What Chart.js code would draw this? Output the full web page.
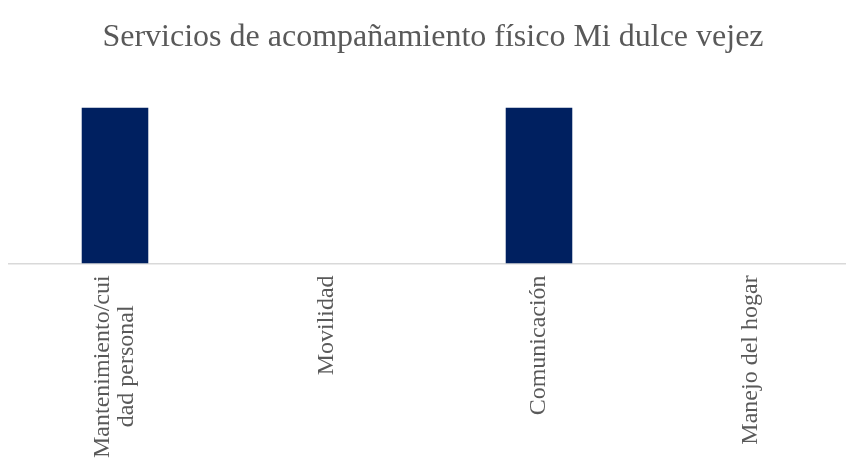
<!DOCTYPE html>
<html>
<head>
<meta charset="utf-8">
<script src="https://cdn.jsdelivr.net/npm/chart.js@4.4.0/dist/chart.umd.min.js"></script>
<style>
  html, body { margin: 0; padding: 0; background: #fff; overflow: hidden; }
  #wrap { width: 879px; height: 459px; }
</style>
</head>
<body>
<div id="wrap"><canvas id="myChart" width="879" height="459"></canvas></div>
<script>
// data
const titulo = 'Servicios de acompañamiento físico Mi dulce vejez';
const categorias = [
    ['Mantenimiento/cui', 'dad personal\u00a0\u00a0\u00a0\u00a0\u00a0'],
    'Movilidad',
    'Comunicación',
    'Manejo del hogar'
];
const valores = [1, 0, 1, 0];

const fuente = "'Liberation Serif', 'Times New Roman', serif";

// labels of two lines get centred on their tick, single lines keep their place
const esMultilinea = (c) => Array.isArray(categorias[c.index]);

const data = {
    labels: categorias,
    datasets: [
        {
            label: 'Servicios',
            data: valores,
            backgroundColor: '#002060',
            barPercentage: 0.314,
            categoryPercentage: 1
        }
    ]
};

const config = {
    type: 'bar',
    data: data,
    options: {
        responsive: false,
        animation: false,
        layout: {
            padding: { left: 9, right: 22, top: 0, bottom: -11 }
        },
        plugins: {
            legend: { display: false },
            tooltip: { enabled: false },
            title: {
                display: true,
                text: titulo,
                color: '#595959',
                font: { family: fuente, size: 32, weight: 'normal' },
                padding: { top: 18, bottom: 51 }
            }
        },
        scales: {
            x: {
                grid: { display: false, drawTicks: false },
                border: { display: true, color: '#d9d9d9', width: 1.5 },
                ticks: {
                    color: '#595959',
                    font: { family: fuente, size: 24, lineHeight: 1.0 },
                    maxRotation: 90,
                    minRotation: 90,
                    padding: 12,
                    labelOffset: -12,
                    showLabelBackdrop: (c) => !esMultilinea(c),
                    backdropColor: 'rgba(0,0,0,0)',
                    autoSkip: false
                }
            },
            y: {
                display: false,
                min: 0,
                max: 1
            }
        }
    }
};

const ctx = document.getElementById('myChart').getContext('2d');
const chart = new Chart(ctx, config);
</script>
</body>
</html>
